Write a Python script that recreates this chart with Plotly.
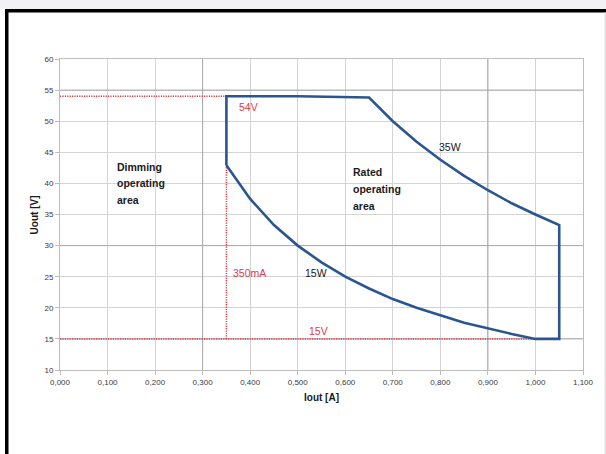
import plotly.graph_objects as go

# ---- data ----
outline_iout = [0.35, 0.35, 0.50, 0.65, 0.70, 0.75, 0.80, 0.85, 0.90, 0.95, 1.00, 1.05,
                1.05, 1.00, 0.95, 0.90, 0.85, 0.80, 0.75, 0.70, 0.65, 0.60, 0.55, 0.50,
                0.45, 0.40, 0.35]
outline_uout = [42.9, 54.0, 54.0, 53.8, 50.0, 46.7, 43.8, 41.2, 38.9, 36.8, 35.0, 33.3,
                15.0, 15.0, 15.8, 16.7, 17.6, 18.8, 20.0, 21.4, 23.1, 25.0, 27.3, 30.0,
                33.3, 37.5, 42.9]

ref54_iout = [0.0, 0.35]
ref54_uout = [54.0, 54.0]
ref15_iout = [0.0, 1.0]
ref15_uout = [15.0, 15.0]
ref350_iout = [0.35, 0.35]
ref350_uout = [15.0, 42.9]

red_labels = ["54V", "350mA", "15V"]
red_label_iout = [0.372, 0.360, 0.520]
red_label_uout = [52.3, 25.6, 16.2]

black_labels = ["15W", "35W"]
black_label_iout = [0.512, 0.793]
black_label_uout = [25.6, 45.8]

dimming_lines = ["Dimming", "operating", "area"]
dimming_iout = [0.115, 0.115, 0.115]
dimming_uout = [42.7, 40.0, 37.3]

rated_lines = ["Rated", "operating", "area"]
rated_iout = [0.612, 0.612, 0.612]
rated_uout = [41.8, 39.1, 36.3]

x_ticks = [0.0, 0.1, 0.2, 0.3, 0.4, 0.5, 0.6, 0.7, 0.8, 0.9, 1.0, 1.1]
y_ticks = [10, 15, 20, 25, 30, 35, 40, 45, 50, 55, 60]
dark_x_grid = [0.3, 0.9]
dark_y_grid = [15, 30, 55]

FONT = "Liberation Sans, Arial, sans-serif"
RED = "#dc3c44"
BLUE = "#2a5590"

fig = go.Figure()

dot = dict(color=RED, width=1.5, dash="1.2px,1.2px")
fig.add_trace(go.Scatter(x=ref54_iout, y=ref54_uout, mode="lines", line=dot, hoverinfo="skip"))
fig.add_trace(go.Scatter(x=ref15_iout, y=ref15_uout, mode="lines", line=dot, hoverinfo="skip"))
fig.add_trace(go.Scatter(x=ref350_iout, y=ref350_uout, mode="lines", line=dot, hoverinfo="skip"))
fig.add_trace(go.Scatter(x=outline_iout, y=outline_uout, mode="lines",
                         line=dict(color=BLUE, width=2.6), hoverinfo="skip"))

annotations = []
for t, x, y in zip(red_labels, red_label_iout, red_label_uout):
    annotations.append(dict(x=x, y=y, text=t, showarrow=False, xanchor="left", yanchor="middle",
                            font=dict(family=FONT, size=10.5, color=RED)))
for t, x, y in zip(black_labels, black_label_iout, black_label_uout):
    annotations.append(dict(x=x, y=y, text=t, showarrow=False, xanchor="left", yanchor="middle",
                            font=dict(family=FONT, size=10.5, color="#1a1a1a")))
for lines, xs, ys in ((dimming_lines, dimming_iout, dimming_uout), (rated_lines, rated_iout, rated_uout)):
    for t, x, y in zip(lines, xs, ys):
        annotations.append(dict(x=x, y=y, text="<b>%s</b>" % t, showarrow=False,
                                xanchor="left", yanchor="middle",
                                font=dict(family=FONT, size=10.5, color="#1a1a1a")))

# axis titles
annotations.append(dict(xref="paper", yref="paper", x=0.5, y=-0.09, text="<b>Iout [A]</b>",
                        showarrow=False, xanchor="center", yanchor="middle",
                        font=dict(family=FONT, size=10, color="#1a1a1a")))
annotations.append(dict(xref="paper", yref="paper", x=-0.048, y=0.5, text="<b>Uout [V]</b>",
                        showarrow=False, xanchor="center", yanchor="middle", textangle=-90,
                        font=dict(family=FONT, size=10, color="#1a1a1a")))

shapes = []
for xv in dark_x_grid:
    shapes.append(dict(type="line", xref="x", yref="y", x0=xv, x1=xv, y0=10, y1=60,
                       line=dict(color="#a8a8a8", width=1), layer="between"))
for yv in dark_y_grid:
    shapes.append(dict(type="line", xref="x", yref="y", x0=0, x1=1.1, y0=yv, y1=yv,
                       line=dict(color="#a8a8a8", width=1), layer="between"))

# frame around the picture (pixel -> paper conversion)
L, R, T, B = 60, 583, 59, 370
W, H = 606, 454
def px(xp):
    return (xp - L) / (R - L)
def py(yp):
    return (B - yp) / (B - T)

shapes.append(dict(type="rect", xref="paper", yref="paper", x0=px(0), x1=px(W), y0=py(0), y1=py(9),
                   fillcolor="#f2f2f4", line=dict(width=0), layer="above"))
shapes.append(dict(type="rect", xref="paper", yref="paper", x0=px(5), x1=px(W), y0=py(9), y1=py(12.5),
                   fillcolor="#000000", line=dict(width=0), layer="above"))
shapes.append(dict(type="rect", xref="paper", yref="paper", x0=px(5), x1=px(8.5), y0=py(9), y1=py(H),
                   fillcolor="#000000", line=dict(width=0), layer="above"))
shapes.append(dict(type="rect", xref="paper", yref="paper", x0=px(604.5), x1=px(W), y0=py(12.5), y1=py(H),
                   fillcolor="#e0e0e0", line=dict(width=0), layer="above"))

fig.update_layout(
    width=W, height=H,
    margin=dict(l=L, r=W - R, t=T, b=H - B, autoexpand=False),
    paper_bgcolor="white", plot_bgcolor="white",
    showlegend=False,
    separators=",.",
    font=dict(family=FONT, size=8, color="#404040"),
    annotations=annotations,
    shapes=shapes,
    xaxis=dict(range=[0, 1.1], tickvals=x_ticks, tickformat=".3f",
               showgrid=True, gridcolor="#d4d4d4", gridwidth=1,
               showline=True, linecolor="#bdbdbd", linewidth=1, mirror=True,
               ticks="outside", ticklen=4, tickcolor="#bdbdbd",
               zeroline=False, fixedrange=True,
               tickfont=dict(family=FONT, size=8, color="#3a3a3a")),
    yaxis=dict(range=[10, 60], tickvals=y_ticks,
               showgrid=True, gridcolor="#d4d4d4", gridwidth=1,
               showline=True, linecolor="#bdbdbd", linewidth=1, mirror=True,
               ticks="outside", ticklen=4, tickcolor="#bdbdbd",
               zeroline=False, fixedrange=True,
               tickfont=dict(family=FONT, size=8, color="#3a3a3a")),
)

fig.write_html("out.html",
               config={"displayModeBar": False},
               post_script="document.body.style.margin='0';document.body.style.overflow='hidden';")
